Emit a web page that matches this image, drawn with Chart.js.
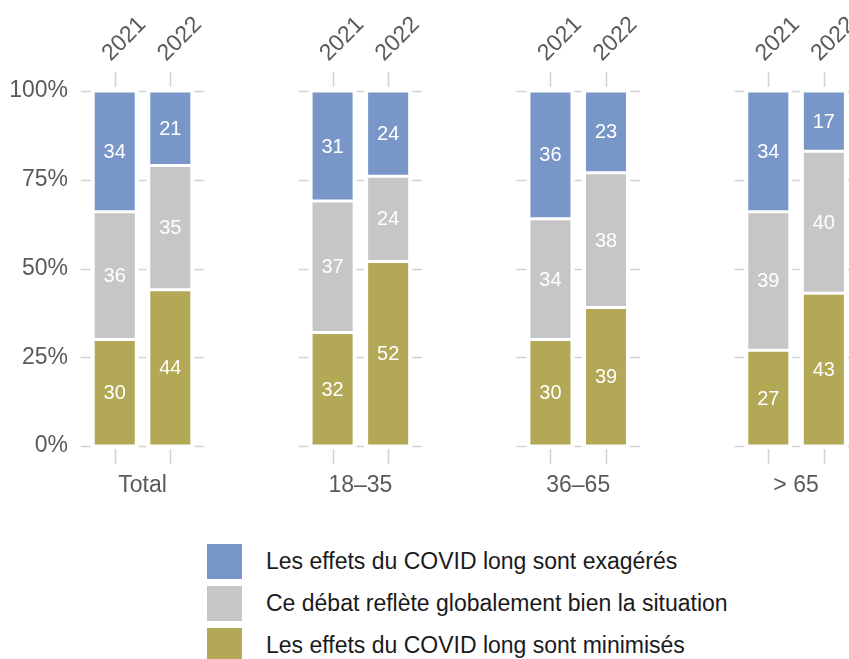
<!DOCTYPE html>
<html lang="fr">
<head>
  <meta charset="utf-8">
  <title>COVID long</title>
  <script src="https://cdn.jsdelivr.net/npm/chart.js@4.4.0/dist/chart.umd.min.js"></script>
  <style>
    html, body { margin: 0; padding: 0; background: #fff; overflow: hidden; }
    body { width: 849px; height: 659px; position: relative; font-family: 'Liberation Sans', Arial, sans-serif; }
    #wrap { position: absolute; left: 0; top: 0; width: 910px; height: 520px; }
    #legend { position: absolute; left: 207px; top: 544px; }
    .item { display: flex; align-items: center; height: 35px; margin-bottom: 7px; }
    .box { width: 35px; height: 35px; margin-right: 24px; }
    .txt { font-size: 23px; color: #1a1a1a; white-space: nowrap; }
  </style>
</head>
<body>
  <div id="wrap"><canvas id="chart" width="910" height="520"></canvas></div>
  <div id="legend"></div>

  <script>
    // categories
    const groups = ['Total', '18–35', '36–65', '> 65'];
    const years = ['2021', '2022'];
    const seriesNames = [
      'Les effets du COVID long sont minimisés',
      'Ce débat reflète globalement bien la situation',
      'Les effets du COVID long sont exagérés'
    ];
    const seriesColors = ['#B2A856', '#C6C6C6', '#7897C8'];

    // values (%), one entry per group
    const minimises2021 = [30, 32, 30, 27];
    const debat2021 = [36, 37, 34, 39];
    const exageres2021 = [34, 31, 36, 34];
    const minimises2022 = [44, 52, 39, 43];
    const debat2022 = [35, 24, 38, 40];
    const exageres2022 = [21, 24, 23, 17];

    const yTicks = [0, 25, 50, 75, 100];

    const catPct = 0.51;
    const barPct = 0.775;
    const xMin = -0.2824, xMax = 3.5;

    const byYear = {
      '2021': [minimises2021, debat2021, exageres2021],
      '2022': [minimises2022, debat2022, exageres2022]
    };

    const datasets = [];
    years.forEach(yr => {
      byYear[yr].forEach((vals, s) => {
        datasets.push({
          label: seriesNames[s],
          stack: yr,
          data: vals.map((v, i) => ({ x: i, y: v })),
          backgroundColor: seriesColors[s],
          borderColor: '#ffffff',
          borderWidth: 1.5,
          borderSkipped: false,
          categoryPercentage: catPct,
          barPercentage: barPct
        });
      });
    });

    // positions of the year labels (centre of each stack)
    const yearTicks = [];
    groups.forEach((g, i) => {
      years.forEach((yr, b) => {
        yearTicks.push({ value: i + (b === 0 ? -1 : 1) * catPct / 4, label: yr });
      });
    });

    const gridColor = '#d2d2d2';

    const noPad = s => { s.paddingLeft = 0; s.paddingRight = 0; s.paddingTop = 0; s.paddingBottom = 0; };

    const facetPlugin = {
      id: 'facetGrid',
      beforeDatasetsDraw(chart) {
        const ctx = chart.ctx;
        const y = chart.scales.y;
        const m0 = chart.getDatasetMeta(0);
        const m1 = chart.getDatasetMeta(3);
        ctx.save();
        ctx.strokeStyle = gridColor;
        ctx.lineWidth = 1.5;
        groups.forEach((g, i) => {
          const a = m0.data[i], b = m1.data[i];
          const half = a.width / 2 + 2.5;
          const segs = [
            [a.x - 34, a.x - half],
            [a.x + half, b.x - half],
            [b.x + half, b.x + 34]
          ];
          yTicks.forEach(t => {
            const py = Math.round(y.getPixelForValue(t)) + 0.5;
            segs.forEach(s => {
              ctx.beginPath();
              ctx.moveTo(s[0], py);
              ctx.lineTo(s[1], py);
              ctx.stroke();
            });
          });
          // tick marks above and below each bar
          const top = y.getPixelForValue(100);
          const bot = y.getPixelForValue(0);
          [a, b].forEach(bar => {
            const px = Math.round(bar.x) + 0.5;
            ctx.beginPath();
            ctx.moveTo(px, top - 19);
            ctx.lineTo(px, top - 4);
            ctx.moveTo(px, bot + 3);
            ctx.lineTo(px, bot + 18);
            ctx.stroke();
          });
        });
        ctx.restore();
      },
      afterDatasetsDraw(chart) {
        const ctx = chart.ctx;
        ctx.save();
        ctx.font = "20px 'Liberation Sans', Arial, sans-serif";
        ctx.fillStyle = '#ffffff';
        ctx.textAlign = 'center';
        ctx.textBaseline = 'middle';
        chart.data.datasets.forEach((ds, d) => {
          chart.getDatasetMeta(d).data.forEach((bar, i) => {
            ctx.fillText(String(ds.data[i].y), bar.x, (bar.y + bar.base) / 2 + 1);
          });
        });
        ctx.restore();
      }
    };

    Chart.defaults.font.family = "'Liberation Sans', Arial, sans-serif";
    Chart.defaults.font.size = 23;
    Chart.defaults.color = '#5a5a5a';

    const chart = new Chart(document.getElementById('chart'), {
      type: 'bar',
      data: { datasets },
      options: {
        responsive: false,
        animation: false,
        layout: { padding: { left: 0, right: 5, top: 0, bottom: 0 } },
        plugins: {
          legend: { display: false },
          tooltip: { enabled: false }
        },
        scales: {
          x: {
            type: 'linear',
            position: 'bottom',
            offset: false,
            min: xMin,
            max: xMax,
            bounds: 'data',
            grid: { display: false, drawTicks: false, offset: false },
            border: { display: false },
            afterBuildTicks: s => { s.ticks = groups.map((g, i) => ({ value: i })); },
            afterFit: s => { s.height = 74; noPad(s); },
            ticks: {
              padding: 26,
              maxRotation: 0,
              callback: v => groups[v]
            }
          },
          xTop: {
            type: 'linear',
            position: 'top',
            offset: false,
            min: xMin,
            max: xMax,
            bounds: 'data',
            grid: { display: false, drawTicks: false, offset: false },
            border: { display: false },
            afterBuildTicks: s => { s.ticks = yearTicks.map(t => ({ value: t.value })); },
            afterFit: s => { s.height = 91; noPad(s); },
            ticks: {
              padding: 24,
              minRotation: 45,
              maxRotation: 45,
              labelOffset: 11,
              autoSkip: false,
              callback: (v, i) => yearTicks[i].label
            }
          },
          y: {
            min: 0,
            max: 100,
            stacked: true,
            grid: { display: false, drawTicks: false },
            border: { display: false },
            afterBuildTicks: s => { s.ticks = yTicks.map(v => ({ value: v })); },
            afterFit: s => { s.width = 81; noPad(s); },
            ticks: {
              padding: 13,
              callback: v => v + '%'
            }
          }
        }
      },
      plugins: [facetPlugin]
    });

    // legend, top series first
    const legend = document.getElementById('legend');
    for (let s = seriesNames.length - 1; s >= 0; s--) {
      const row = document.createElement('div');
      row.className = 'item';
      row.innerHTML = '<span class="box" style="background:' + seriesColors[s] + '"></span>' +
        '<span class="txt">' + seriesNames[s] + '</span>';
      legend.appendChild(row);
    }
  </script>
</body>
</html>
